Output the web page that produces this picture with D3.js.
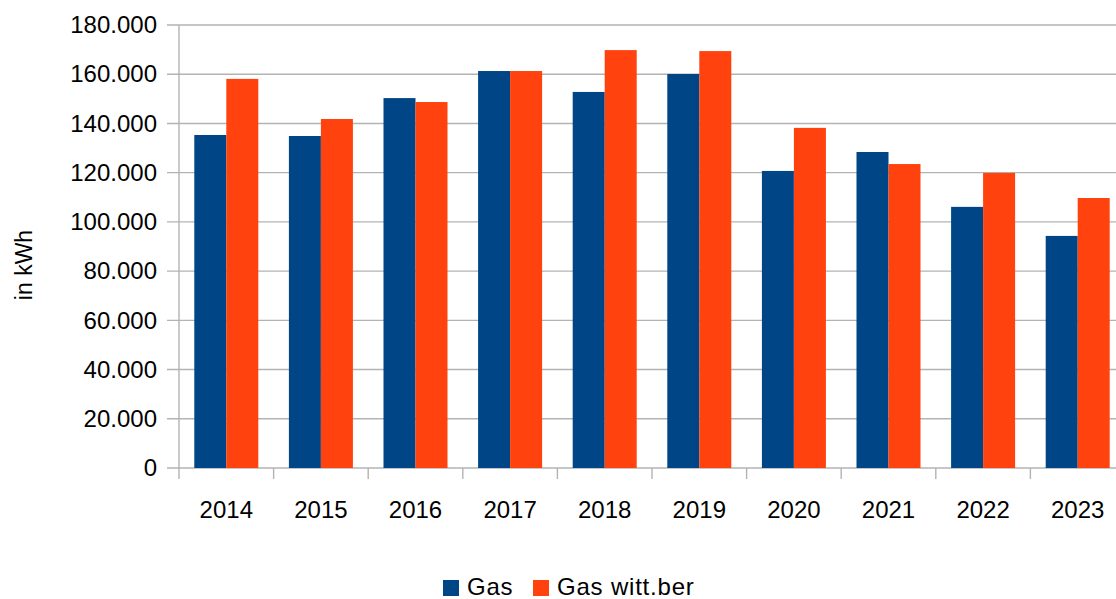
<!DOCTYPE html>
<html>
<head>
<meta charset="utf-8">
<script src="https://cdn.jsdelivr.net/npm/d3@7"></script>
<style>
  html, body { margin: 0; padding: 0; background: #fff; }
  #chart { width: 1116px; height: 599px; }
  text { font-family: "Liberation Sans", Arial, sans-serif; fill: #000; }
</style>
</head>
<body>
<div id="chart"></div>
<script>
// data
const years = ["2014", "2015", "2016", "2017", "2018", "2019", "2020", "2021", "2022", "2023"];
const gas = [135300, 134900, 150300, 161300, 152800, 160100, 120700, 128400, 106100, 94300];
const gasWitt = [158100, 141800, 148700, 161300, 169800, 169400, 138200, 123500, 119900, 109700];
const seriesNames = ["Gas", "Gas witt.ber"];
const yTicks = [0, 20000, 40000, 60000, 80000, 100000, 120000, 140000, 160000, 180000];

const colors = ["#004586", "#ff420e"];

const W = 1116, H = 599;
const margin = {top: 25, left: 179, bottom: 131, right: -9};   // plot runs past the right edge
const plotW = W - margin.left - margin.right;
const plotH = H - margin.top - margin.bottom;

const svg = d3.select("#chart").append("svg")
    .attr("width", W)
    .attr("height", H);

const x = d3.scaleBand()
    .domain(years)
    .range([margin.left, margin.left + plotW])
    .paddingInner(0).paddingOuter(0);

const xSub = d3.scaleBand()
    .domain(seriesNames)
    .range([0, x.bandwidth()])
    .paddingInner(0).paddingOuter(0.478);

const y = d3.scaleLinear()
    .domain([0, 180000])
    .range([margin.top + plotH, margin.top]);

const fmt = function(v) {
    return v === 0 ? "0" : d3.format(",")(v).replace(/,/g, ".");
};

// grid
svg.append("g").attr("class", "grid")
    .selectAll("line")
    .data(yTicks)
    .enter().append("line")
    .attr("x1", margin.left - 12)
    .attr("x2", margin.left + plotW)
    .attr("y1", d => y(d))
    .attr("y2", d => y(d))
    .attr("stroke", "#b3b3b3")
    .attr("stroke-width", 1.4);

// bars
const rows = years.map((yr, i) => ({year: yr, values: [gas[i], gasWitt[i]]}));

const groups = svg.append("g").attr("class", "bars")
    .selectAll("g")
    .data(rows)
    .enter().append("g")
    .attr("transform", d => "translate(" + x(d.year) + ",0)");

groups.selectAll("rect")
    .data(d => d.values.map((v, j) => ({name: seriesNames[j], value: v, j: j})))
    .enter().append("rect")
    .attr("x", d => xSub(d.name))
    .attr("width", xSub.bandwidth())
    .attr("y", d => y(d.value))
    .attr("height", d => y(0) - y(d.value))
    .attr("fill", d => colors[d.j]);

// y axis
const yAxis = svg.append("g")
    .attr("transform", "translate(" + margin.left + ",0)")
    .call(d3.axisLeft(y).tickValues(yTicks).tickFormat(fmt).tickSize(12).tickPadding(10));
yAxis.select(".domain").remove();
yAxis.selectAll(".tick line").remove();
yAxis.selectAll("text")
    .style("font-size", "24px")
    .style("font-family", "'Liberation Sans', Arial, sans-serif")
    .attr("fill", "#000");

svg.append("line")
    .attr("x1", margin.left).attr("x2", margin.left)
    .attr("y1", margin.top).attr("y2", y(0) + 11)
    .attr("stroke", "#b3b3b3").attr("stroke-width", 1.4);

// x axis ticks and labels
const xAxis = svg.append("g")
    .attr("transform", "translate(0," + y(0) + ")")
    .call(d3.axisBottom(x).tickSize(0).tickPadding(33));
xAxis.select(".domain").remove();
xAxis.selectAll("text")
    .style("font-size", "24px")
    .style("font-family", "'Liberation Sans', Arial, sans-serif")
    .attr("fill", "#000");

svg.append("g").selectAll("line")
    .data(years.slice(1))
    .enter().append("line")
    .attr("x1", d => x(d)).attr("x2", d => x(d))
    .attr("y1", y(0)).attr("y2", y(0) + 11)
    .attr("stroke", "#b3b3b3").attr("stroke-width", 1.4);

// y title
svg.append("text")
    .attr("transform", "translate(32," + 265 + ") rotate(-90)")
    .attr("text-anchor", "middle")
    .style("font-size", "23px")
    .text("in kWh");

// legend
const legendX = [443, 533];
const legend = svg.append("g").selectAll("g")
    .data(seriesNames)
    .enter().append("g")
    .attr("transform", (d, i) => "translate(" + legendX[i] + ",580)");
legend.append("rect")
    .attr("width", 16).attr("height", 16)
    .attr("fill", (d, i) => colors[i]);
legend.append("text")
    .attr("x", 24).attr("y", 15)
    .style("font-size", "24px")
    .style("letter-spacing", "0.8px")
    .text(d => d);
</script>
</body>
</html>
